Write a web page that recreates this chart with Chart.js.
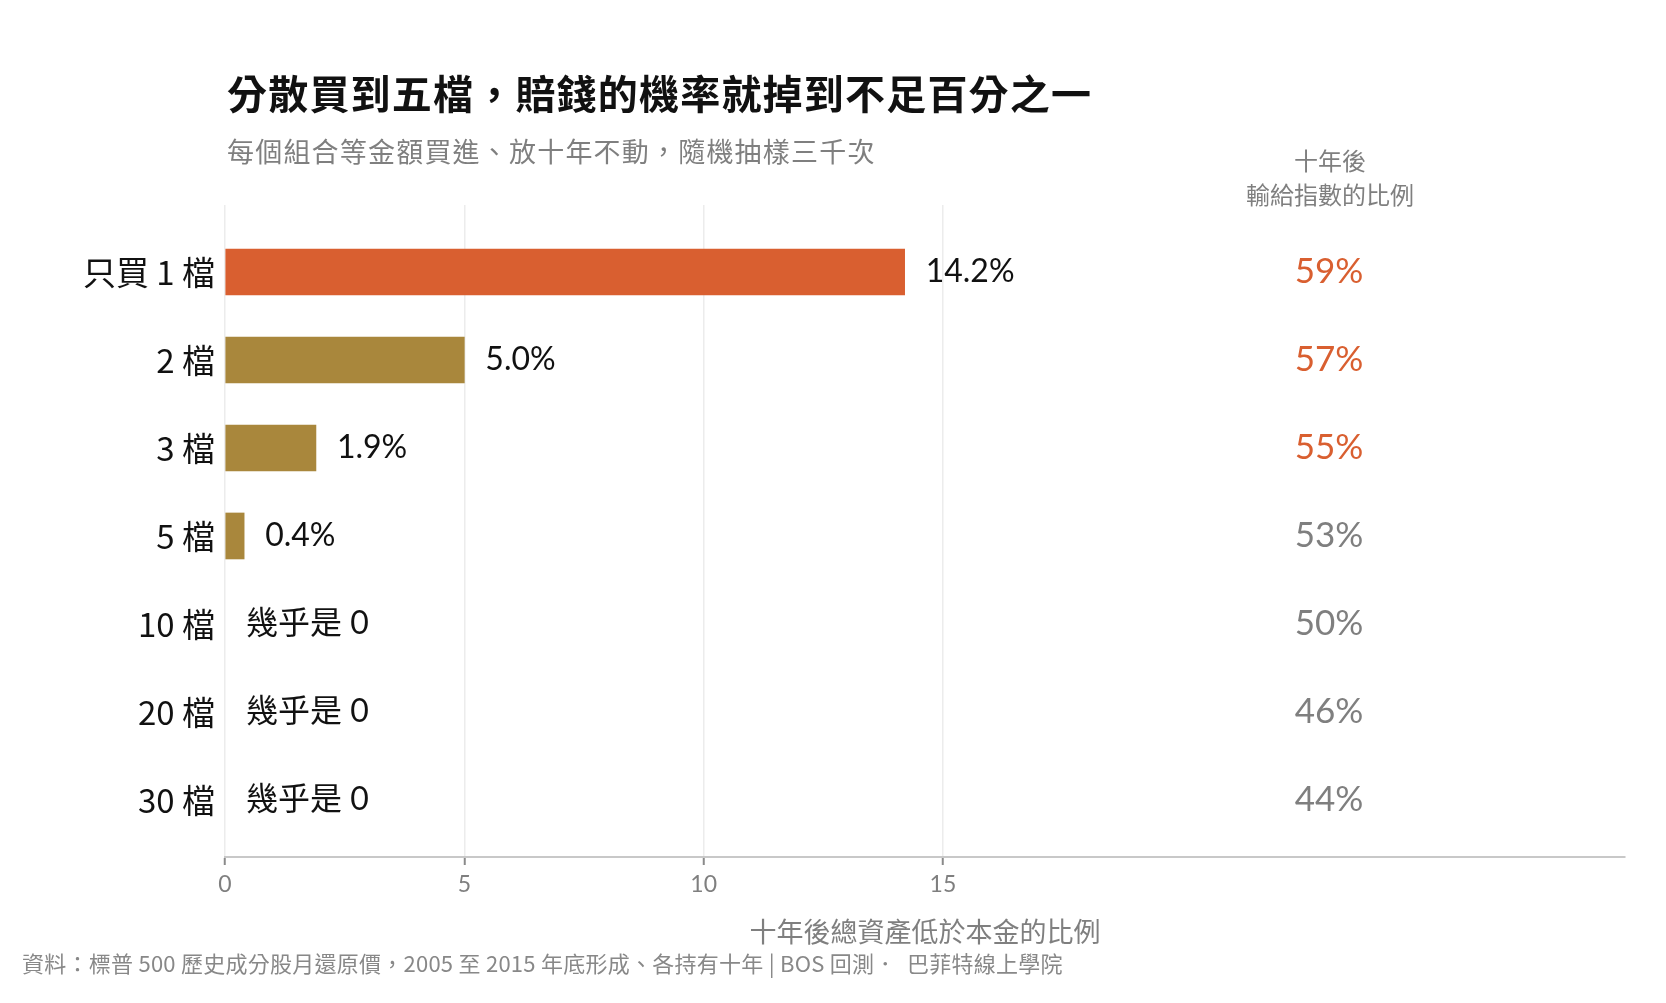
<!DOCTYPE html>
<html lang="zh-Hant">
<head>
  <meta charset="UTF-8">
  <title>分散買到五檔，賠錢的機率就掉到不足百分之一</title>
  <script src="https://cdn.jsdelivr.net/npm/chart.js"></script>
  <style>
    body {
      margin: 0;
      background: #fff;
    }
    .chart-box {
      width: 1666px;
      height: 1003px;
      position: relative;
    }
  </style>
</head>
<body>

  <div class="chart-box">
    <canvas id="lossChart"></canvas>
  </div>

  <script>
    // data
    const categories = ['只買 1 檔', '2 檔', '3 檔', '5 檔', '10 檔', '20 檔', '30 檔'];
    const lossBelowPrincipal = [14.2, 5.0, 1.9, 0.4, 0, 0, 0];   // %
    const loseToIndex = [59, 57, 55, 53, 50, 46, 44];            // %
    const xTicks = [0, 5, 10, 15];
    const nearZeroText = '幾乎是 0';

    const titleText = '分散買到五檔，賠錢的機率就掉到不足百分之一';
    const subtitleText = '每個組合等金額買進、放十年不動，隨機抽樣三千次';
    const sideHeader = ['十年後', '輸給指數的比例'];
    const xTitle = '十年後總資產低於本金的比例';
    const sourceText = '資料：標普 500 歷史成分股月還原價，2005 至 2015 年底形成、各持有十年 | BOS 回測．  巴菲特線上學院';

    const CJK = "'Noto Sans CJK TC', 'Noto Sans CJK SC', sans-serif";
    const NUM = "Lato, 'Noto Sans CJK TC', sans-serif";
    const orange = '#d95f30';
    const gold = '#a9873c';
    const grey = '#7f7f7f';

    const labelPlugin = {
      id: 'labels',
      afterDatasetsDraw(chart) {
        const ctx = chart.ctx;
        const bars = chart.getDatasetMeta(0).data;
        ctx.save();
        ctx.textBaseline = 'middle';
        bars.forEach((bar, i) => {
          const v = lossBelowPrincipal[i];
          ctx.textAlign = 'left';
          ctx.fillStyle = '#111';
          ctx.font = '32px ' + NUM;
          ctx.fillText(v > 0 ? v.toFixed(1) + '%' : nearZeroText, bar.x + 21, bar.y);

          const s = loseToIndex[i];
          ctx.textAlign = 'center';
          ctx.fillStyle = s > 54 ? orange : grey;
          ctx.font = '35px ' + NUM;
          ctx.fillText(s + '%', 1329, bar.y);
        });
        ctx.restore();
      },
      afterDraw(chart) {
        const ctx = chart.ctx;
        ctx.save();
        ctx.textBaseline = 'middle';
        ctx.textAlign = 'left';

        ctx.fillStyle = '#111';
        ctx.font = 'bold 40px ' + CJK;
        ctx.letterSpacing = '1.2px';
        ctx.fillText(titleText, 227, 94);

        ctx.fillStyle = grey;
        ctx.font = '27px ' + CJK;
        ctx.fillText(subtitleText, 227, 152);
        ctx.letterSpacing = '0px';

        ctx.textAlign = 'center';
        ctx.font = '24px ' + CJK;
        ctx.fillText(sideHeader[0], 1330, 161);
        ctx.fillText(sideHeader[1], 1330, 195);

        ctx.textAlign = 'left';
        ctx.fillStyle = '#888';
        ctx.font = '22px ' + CJK;
        ctx.letterSpacing = '0.25px';
        ctx.fillText(sourceText, 22, 964);
        ctx.restore();
      }
    };

    const ctx = document.getElementById('lossChart').getContext('2d');
    new Chart(ctx, {
      type: 'bar',
      data: {
        datasets: [{
          data: lossBelowPrincipal.map((v, i) => ({ x: v, y: i })),
          backgroundColor: lossBelowPrincipal.map((v, i) => v === 0 ? 'rgba(0,0,0,0)' : (i === 0 ? orange : gold)),
          barThickness: 46,
          borderWidth: 0
        }]
      },
      options: {
        indexAxis: 'y',
        responsive: true,
        maintainAspectRatio: false,
        animation: false,
        layout: { padding: { top: 205, right: 41, bottom: 0, left: 0 } },
        plugins: {
          legend: { display: false },
          tooltip: { enabled: false }
        },
        scales: {
          x: {
            type: 'linear',
            min: 0,
            max: 29.25,
            afterBuildTicks: (scale) => { scale.ticks = xTicks.map(v => ({ value: v })); },
            afterFit: (scale) => { scale.height = 146; },
            grid: {
              color: '#ececec',
              lineWidth: 1.5,
              tickColor: '#8a8a8a',
              tickLength: 8,
              tickWidth: 2
            },
            border: { color: '#c8c8c8', width: 2 },
            ticks: {
              padding: 6,
              color: grey,
              font: { family: NUM, size: 23 }
            },
            title: {
              display: true,
              text: xTitle,
              color: grey,
              font: { family: CJK, size: 27 },
              padding: { top: 0, bottom: 55 }
            }
          },
          y: {
            type: 'linear',
            reverse: true,
            offset: false,
            min: -0.761,
            max: 6.648,
            afterBuildTicks: (scale) => { scale.ticks = categories.map((c, i) => ({ value: i })); },
            afterFit: (scale) => { scale.width = 225; },
            grid: { display: false, drawTicks: false, offset: false },
            border: { display: false },
            ticks: {
              padding: 10,
              color: '#111',
              font: { family: CJK, size: 33 },
              callback: (v) => categories[v]
            }
          }
        }
      },
      plugins: [labelPlugin]
    });
  </script>

</body>
</html>
